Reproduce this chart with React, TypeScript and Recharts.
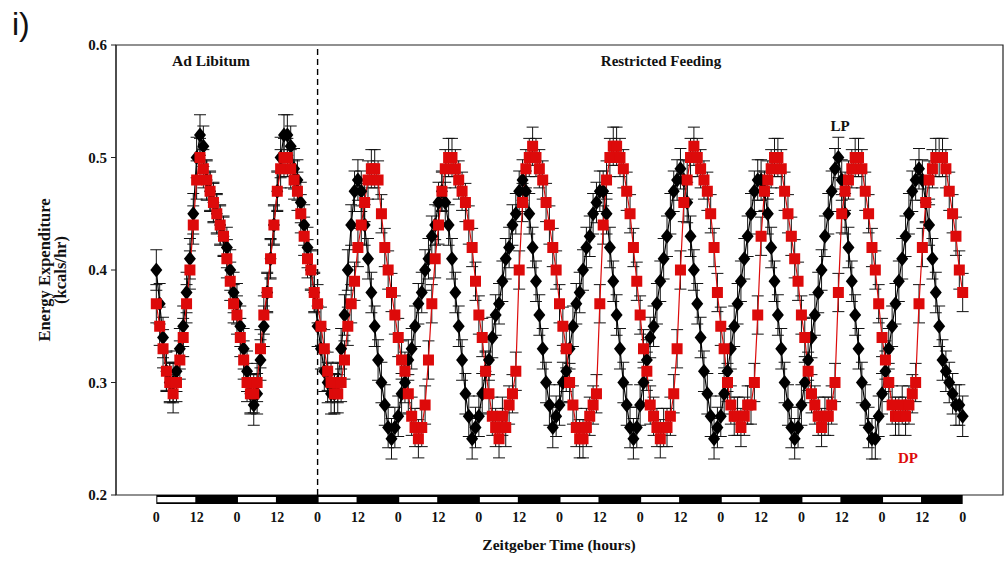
import React from 'react';
import { LineChart, Line, XAxis, YAxis, ErrorBar, ReferenceLine, ReferenceArea } from 'recharts';

// Energy expenditure (kcals/hr), hourly. LP = black diamonds, DP = red squares.
// Days 1-2 ad libitum, days 3-10 restricted feeding. Each day array holds ZT 0..23.
const LP_D1 = [0.40, 0.37, 0.34, 0.31, 0.30, 0.30, 0.31, 0.33, 0.35, 0.38, 0.41, 0.45, 0.50, 0.52, 0.51, 0.48, 0.47, 0.46, 0.45, 0.44, 0.43, 0.42, 0.40, 0.38];
const LP_D2 = [0.37, 0.35, 0.33, 0.31, 0.29, 0.28, 0.29, 0.32, 0.35, 0.38, 0.41, 0.44, 0.47, 0.50, 0.52, 0.52, 0.51, 0.49, 0.48, 0.46, 0.44, 0.42, 0.40, 0.38];
const LP_D3 = [0.35, 0.33, 0.31, 0.30, 0.29, 0.29, 0.30, 0.33, 0.36, 0.40, 0.44, 0.47, 0.48, 0.47, 0.44, 0.41, 0.38, 0.35, 0.32, 0.30, 0.28, 0.26, 0.25, 0.26];
const LP_D4 = [0.27, 0.29, 0.30, 0.32, 0.33, 0.35, 0.37, 0.38, 0.40, 0.41, 0.43, 0.44, 0.46, 0.47, 0.46, 0.44, 0.41, 0.38, 0.35, 0.32, 0.29, 0.27, 0.25, 0.26];
const LP_D5 = [0.27, 0.29, 0.31, 0.32, 0.34, 0.36, 0.37, 0.39, 0.41, 0.42, 0.44, 0.45, 0.47, 0.48, 0.47, 0.45, 0.42, 0.39, 0.36, 0.33, 0.30, 0.28, 0.26, 0.27];
const LP_D6 = [0.28, 0.30, 0.31, 0.33, 0.35, 0.37, 0.38, 0.40, 0.42, 0.43, 0.45, 0.46, 0.47, 0.47, 0.45, 0.42, 0.39, 0.36, 0.33, 0.30, 0.28, 0.26, 0.25, 0.26];
const LP_D7 = [0.28, 0.30, 0.32, 0.34, 0.35, 0.37, 0.39, 0.41, 0.43, 0.45, 0.47, 0.48, 0.49, 0.48, 0.46, 0.43, 0.40, 0.37, 0.34, 0.31, 0.29, 0.27, 0.25, 0.26];
const LP_D8 = [0.27, 0.29, 0.31, 0.33, 0.35, 0.37, 0.39, 0.41, 0.43, 0.45, 0.47, 0.48, 0.48, 0.47, 0.45, 0.42, 0.39, 0.36, 0.33, 0.30, 0.28, 0.26, 0.25, 0.26];
const LP_D9 = [0.28, 0.30, 0.32, 0.34, 0.36, 0.38, 0.40, 0.43, 0.45, 0.47, 0.49, 0.50, 0.48, 0.45, 0.42, 0.39, 0.36, 0.33, 0.30, 0.28, 0.26, 0.25, 0.25, 0.27];
const LP_D10 = [0.29, 0.31, 0.33, 0.35, 0.37, 0.39, 0.41, 0.43, 0.45, 0.47, 0.48, 0.49, 0.48, 0.46, 0.44, 0.41, 0.38, 0.35, 0.32, 0.31, 0.30, 0.29, 0.28, 0.28];
const LP_END = 0.27;

const DP_D1 = [0.37, 0.35, 0.33, 0.31, 0.30, 0.29, 0.30, 0.32, 0.34, 0.37, 0.40, 0.44, 0.48, 0.50, 0.49, 0.48, 0.47, 0.46, 0.45, 0.44, 0.43, 0.41, 0.39, 0.37];
const DP_D2 = [0.36, 0.34, 0.32, 0.30, 0.29, 0.29, 0.30, 0.33, 0.36, 0.38, 0.41, 0.44, 0.47, 0.49, 0.50, 0.50, 0.49, 0.48, 0.47, 0.45, 0.43, 0.41, 0.40, 0.38];
const DP_D3 = [0.37, 0.35, 0.33, 0.31, 0.30, 0.29, 0.29, 0.30, 0.32, 0.35, 0.37, 0.39, 0.42, 0.44, 0.46, 0.48, 0.49, 0.49, 0.48, 0.45, 0.42, 0.40, 0.38, 0.36];
const DP_D4 = [0.34, 0.32, 0.31, 0.29, 0.27, 0.26, 0.25, 0.26, 0.28, 0.32, 0.37, 0.41, 0.44, 0.47, 0.49, 0.50, 0.50, 0.49, 0.48, 0.47, 0.46, 0.44, 0.42, 0.39];
const DP_D5 = [0.36, 0.34, 0.31, 0.29, 0.27, 0.26, 0.25, 0.27, 0.26, 0.28, 0.29, 0.31, 0.40, 0.46, 0.49, 0.50, 0.51, 0.50, 0.49, 0.48, 0.46, 0.44, 0.42, 0.40];
const DP_D6 = [0.37, 0.35, 0.33, 0.30, 0.28, 0.26, 0.25, 0.25, 0.26, 0.27, 0.28, 0.29, 0.37, 0.44, 0.48, 0.50, 0.51, 0.51, 0.50, 0.49, 0.47, 0.45, 0.42, 0.39];
const DP_D7 = [0.36, 0.33, 0.31, 0.28, 0.27, 0.26, 0.25, 0.26, 0.26, 0.27, 0.29, 0.33, 0.40, 0.46, 0.48, 0.50, 0.51, 0.50, 0.49, 0.48, 0.47, 0.45, 0.42, 0.38];
const DP_D8 = [0.35, 0.33, 0.30, 0.28, 0.27, 0.27, 0.26, 0.27, 0.28, 0.28, 0.30, 0.36, 0.43, 0.47, 0.48, 0.49, 0.50, 0.50, 0.49, 0.47, 0.45, 0.43, 0.41, 0.39];
const DP_D9 = [0.36, 0.34, 0.31, 0.29, 0.28, 0.27, 0.26, 0.27, 0.27, 0.28, 0.30, 0.38, 0.45, 0.47, 0.48, 0.49, 0.50, 0.50, 0.49, 0.47, 0.45, 0.42, 0.40, 0.37];
const DP_D10 = [0.34, 0.32, 0.30, 0.28, 0.27, 0.27, 0.28, 0.27, 0.28, 0.29, 0.30, 0.37, 0.42, 0.46, 0.48, 0.49, 0.50, 0.50, 0.50, 0.49, 0.47, 0.45, 0.43, 0.40];
const DP_END = 0.38;

// typical SEM seen on the error bars
const LP_SEM = 0.018;
const DP_SEM = 0.017;

const X_TICKS = [0, 12, 24, 36, 48, 60, 72, 84, 96, 108, 120, 132, 144, 156, 168, 180, 192, 204, 216, 228, 240];
const Y_TICKS = [0.2, 0.3, 0.4, 0.5, 0.6];
const LIGHT_ON = [0, 24, 48, 72, 96, 120, 144, 168, 192, 216];
const FEEDING_START = 48;

const lp = [...LP_D1, ...LP_D2, ...LP_D3, ...LP_D4, ...LP_D5, ...LP_D6, ...LP_D7, ...LP_D8, ...LP_D9, ...LP_D10, LP_END];
const dp = [...DP_D1, ...DP_D2, ...DP_D3, ...DP_D4, ...DP_D5, ...DP_D6, ...DP_D7, ...DP_D8, ...DP_D9, ...DP_D10, DP_END];

const data = lp.map((v, i) => ({ hour: i, lp: v, dp: dp[i], lpErr: LP_SEM, dpErr: DP_SEM }));

const SERIF = '"Liberation Serif", "Times New Roman", serif';
const RED = '#dd0a0a';

const Diamond = (p: any) => {
  const { cx, cy, index } = p;
  if (cx == null || cy == null) return <g key={`lp-${index}`} />;
  return (
    <polygon
      key={`lp-${index}`}
      points={`${cx},${cy - 7.5} ${cx + 6},${cy} ${cx},${cy + 7.5} ${cx - 6},${cy}`}
      fill="#000"
    />
  );
};

const Square = (p: any) => {
  const { cx, cy, index } = p;
  if (cx == null || cy == null) return <g key={`dp-${index}`} />;
  return <rect key={`dp-${index}`} x={cx - 5.5} y={cy - 5.5} width={11} height={11} fill={RED} />;
};

export default function App() {
  return (
    <div style={{ position: 'absolute', left: 0, top: 0, width: 1005, height: 562, background: '#fff' }}>
      <LineChart width={1005} height={562} data={data} margin={{ top: 45, right: 2, left: 0, bottom: 27 }}>
        <XAxis
          type="number"
          dataKey="hour"
          domain={[-12, 252]}
          ticks={X_TICKS}
          tickFormatter={(v: number) => (v % 24 === 0 ? '0' : '12')}
          axisLine={false}
          tickLine={false}
          tickSize={8}
          tickMargin={9}
          height={40}
          tick={{ fontFamily: SERIF, fontWeight: 'bold', fontSize: 14, fill: '#111' }}
        />
        <YAxis
          type="number"
          domain={[0.2, 0.6]}
          ticks={Y_TICKS}
          tickFormatter={(v: number) => v.toFixed(1)}
          width={116}
          tickSize={5}
          tickMargin={4}
          stroke="#222"
          tick={{ fontFamily: SERIF, fontWeight: 'bold', fontSize: 15, fill: '#111' }}
        />
        <ReferenceArea x1={-12} x2={252} y1={0.2} y2={0.6} fill="none" stroke="#222" strokeWidth={1.2} />
        <ReferenceArea x1={0} x2={240} y1={0.192} y2={0.2} ifOverflow="visible" fill="#000" fillOpacity={1} stroke="none" />
        {LIGHT_ON.map((h) => (
          <ReferenceArea
            key={h}
            x1={h + 0.3}
            x2={h + 11.6}
            y1={0.1936}
            y2={0.1982}
            ifOverflow="visible"
            fill="#fff"
            fillOpacity={1}
            stroke="none"
          />
        ))}
        <ReferenceLine x={FEEDING_START} stroke="#000" strokeWidth={1.4} strokeDasharray="6 4" />
        <Line
          type="linear"
          dataKey="lp"
          stroke="#000"
          strokeWidth={1.2}
          dot={Diamond}
          activeDot={false}
          isAnimationActive={false}
        >
          <ErrorBar dataKey="lpErr" width={6} stroke="#111" strokeWidth={1} direction="y" />
        </Line>
        <Line
          type="linear"
          dataKey="dp"
          stroke={RED}
          strokeWidth={1.2}
          dot={Square}
          activeDot={false}
          isAnimationActive={false}
        >
          <ErrorBar dataKey="dpErr" width={6} stroke="#111" strokeWidth={1} direction="y" />
        </Line>
      </LineChart>
      <svg
        width={1005}
        height={562}
        style={{ position: 'absolute', left: 0, top: 0, pointerEvents: 'none' }}
      >
        <text x={12} y={35} fontFamily='"Liberation Sans", Arial, sans-serif' fontSize={32} fill="#111">i)</text>
        <text x={50} y={270} transform="rotate(-90 50 270)" textAnchor="middle" fontFamily={SERIF} fontWeight="bold" fontSize={16.5} fill="#111">
          Energy Expenditure
        </text>
        <text x={66} y={270} transform="rotate(-90 66 270)" textAnchor="middle" fontFamily={SERIF} fontWeight="bold" fontSize={16.5} fill="#111">
          (kcals/hr)
        </text>
        <text x={211} y={66} textAnchor="middle" fontFamily={SERIF} fontWeight="bold" fontSize={15.5} fill="#111">Ad Libitum</text>
        <text x={661} y={66} textAnchor="middle" fontFamily={SERIF} fontWeight="bold" fontSize={15} fill="#111">Restricted Feeding</text>
        <text x={840} y={131} textAnchor="middle" fontFamily={SERIF} fontWeight="bold" fontSize={15} fill="#111">LP</text>
        <text x={908} y={463} textAnchor="middle" fontFamily={SERIF} fontWeight="bold" fontSize={15} fill={RED}>DP</text>
        <text x={559} y={550} textAnchor="middle" fontFamily={SERIF} fontWeight="bold" fontSize={15.5} fill="#111">Zeitgeber Time (hours)</text>
      </svg>
    </div>
  );
}
